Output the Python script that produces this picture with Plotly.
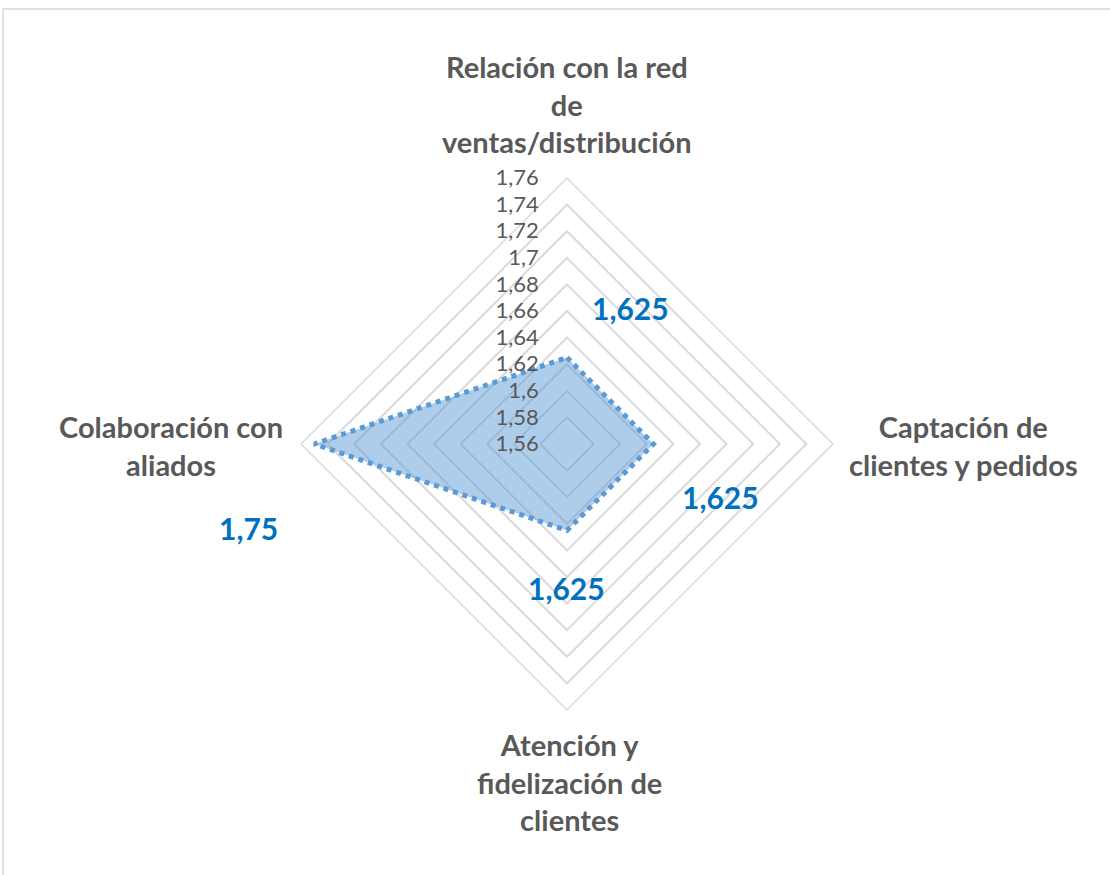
import plotly.graph_objects as go

# --- Datos ---
categorias = [
    "Relación con la red<br>de<br>ventas/distribución",
    "Captación de<br>clientes y pedidos",
    "Atención y<br>fidelización de<br>clientes",
    "Colaboración con<br>aliados",
]
valores = [1.625, 1.625, 1.625, 1.75]
ticks_radiales = [1.56, 1.58, 1.60, 1.62, 1.64, 1.66, 1.68, 1.70, 1.72, 1.74, 1.76]
rango_radial = [1.56, 1.76]

W, H = 1110, 875

def px(x, y):
    # coordenadas de pixel -> papel
    return x / W, 1 - y / H

def fmt(v):
    return f"{v:g}".replace(".", ",")

gris = "#595959"
azul_texto = "#0070C0"
rejilla = "#D9D9D9"

fig = go.Figure()

fig.add_trace(go.Scatterpolar(
    r=valores + valores[:1],
    theta=[c.replace("<br>", " ") for c in categorias] + [categorias[0].replace("<br>", " ")],
    mode="lines",
    fill="toself",
    fillcolor="rgba(91,155,213,0.5)",
    line=dict(color="#5B9BD5", width=5, dash="dot"),
    hoverinfo="skip",
    showlegend=False,
))

# centro del radar y radio exterior (px)
cx, cy, rad = 567, 444, 266
x0, y0 = px(cx - rad, cy + rad)
x1, y1 = px(cx + rad, cy - rad)

fig.update_layout(
    width=W, height=H,
    margin=dict(l=0, r=0, t=0, b=0),
    paper_bgcolor="white",
    font=dict(family="Lato", color=gris),
    polar=dict(
        domain=dict(x=[x0, x1], y=[y0, y1]),
        bgcolor="white",
        gridshape="linear",
        radialaxis=dict(
            range=rango_radial,
            tickvals=ticks_radiales,
            ticktext=[fmt(t) for t in ticks_radiales],
            angle=90,
            tickangle=90,
            side="counterclockwise",
            showline=False,
            gridcolor=rejilla,
            gridwidth=1.5,
            ticks="outside",
            ticklen=20,
            tickcolor="rgba(0,0,0,0)",
            tickfont=dict(size=22, color=gris),
        ),
        angularaxis=dict(
            rotation=90,
            direction="clockwise",
            showgrid=False,
            showticklabels=False,
            ticks="",
            showline=True,
            linecolor=rejilla,
            linewidth=1.5,
        ),
    ),
)

# Etiquetas de categoría
pos_cat = [(567, 104), (963, 446), (569, 782), (171, 446)]
for texto, (x, y) in zip(categorias, pos_cat):
    ax, ay = px(x, y)
    fig.add_annotation(
        x=ax, y=ay, xref="paper", yref="paper", text=f"<b>{texto}</b>",
        showarrow=False, font=dict(size=29, color=gris), align="center",
        xanchor="center", yanchor="middle",
    )

# Etiquetas de datos
pos_dat = [(630, 308), (720, 497), (566, 588), (248, 528)]
for v, (x, y) in zip(valores, pos_dat):
    ax, ay = px(x, y)
    fig.add_annotation(
        x=ax, y=ay, xref="paper", yref="paper", text=f"<b>{fmt(v)}</b>",
        showarrow=False, font=dict(size=30, color=azul_texto),
        xanchor="center", yanchor="middle",
    )

# Borde del gráfico
fig.add_shape(
    type="rect", xref="paper", yref="paper",
    x0=3 / W, x1=1.01, y0=-0.01, y1=1 - 9 / H,
    line=dict(color=rejilla, width=1.5), fillcolor="rgba(0,0,0,0)",
)

fig.write_html("out.html", config={"displayModeBar": False},
               post_script="document.body.style.margin='0';")
